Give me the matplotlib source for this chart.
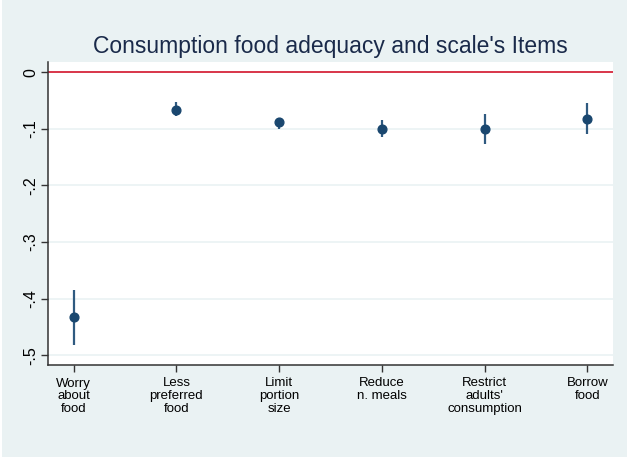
import matplotlib.pyplot as plt
import numpy as np
from matplotlib.patches import Rectangle

plt.rcParams['font.family'] = ['Liberation Sans', 'DejaVu Sans']

# estimates and confidence intervals
items = ['Worry\nabout\nfood', 'Less\npreferred\nfood', 'Limit\nportion\nsize',
         'Reduce\nn. meals', "Restrict\nadults'\nconsumption", 'Borrow\nfood']
coef = [-0.433, -0.067, -0.088, -0.100, -0.100, -0.083]
ci_low = [-0.481, -0.078, -0.100, -0.115, -0.126, -0.110]
ci_high = [-0.385, -0.053, -0.080, -0.084, -0.074, -0.054]
yticks = [0, -0.1, -0.2, -0.3, -0.4, -0.5]
yticklabels = ['0', '-.1', '-.2', '-.3', '-.4', '-.5']

bg = '#EAF2F3'
navy = '#1A476F'

W, H = 629, 459
fig = plt.figure(figsize=(W / 100, H / 100), dpi=100, facecolor='white')
fig.patches.append(Rectangle((2 / W, 2 / H), (W - 4) / W, (H - 2) / H,
                             transform=fig.transFigure, facecolor=bg,
                             edgecolor='none', zorder=-10))

ax = fig.add_axes([48 / W, 1 - 365 / H, (613 - 48) / W, (365 - 62) / H])
ax.set_facecolor('white')

x = np.arange(1, len(items) + 1)
for i in range(len(items)):
    ax.plot([x[i], x[i]], [ci_low[i], ci_high[i]], color='#2F5A80', lw=1.6,
            zorder=3, solid_capstyle='butt')
ax.plot(x, coef, 'o', color=navy, ms=6.3, zorder=4)

ax.axhline(0, color='#D7263D', lw=1.3, zorder=2)

ax.set_xlim(0.75, 6.25)
ax.set_ylim(-0.517, 0.018)
ax.set_yticks(yticks)
ax.set_yticklabels(yticklabels, rotation=90, va='center', fontsize=11.5)
ax.set_xticks(x)
ax.set_xticklabels(items, fontsize=9.5, linespacing=1.1)
ax.tick_params(axis='both', length=5, width=1, color='#333333', pad=4)
ax.tick_params(axis='y', pad=2)

ax.grid(axis='y', color=bg, lw=1.2)
ax.set_axisbelow(True)
for s in ['top', 'right']:
    ax.spines[s].set_visible(False)
for s in ['left', 'bottom']:
    ax.spines[s].set_color('#333333')
    ax.spines[s].set_linewidth(1.1)

fig.text(330 / W, 1 - 47 / H, "Consumption food adequacy and scale's Items",
         ha='center', va='center', fontsize=16.5, color='#1A2A4A')

fig.savefig('out.png', dpi=100, facecolor=fig.get_facecolor())
